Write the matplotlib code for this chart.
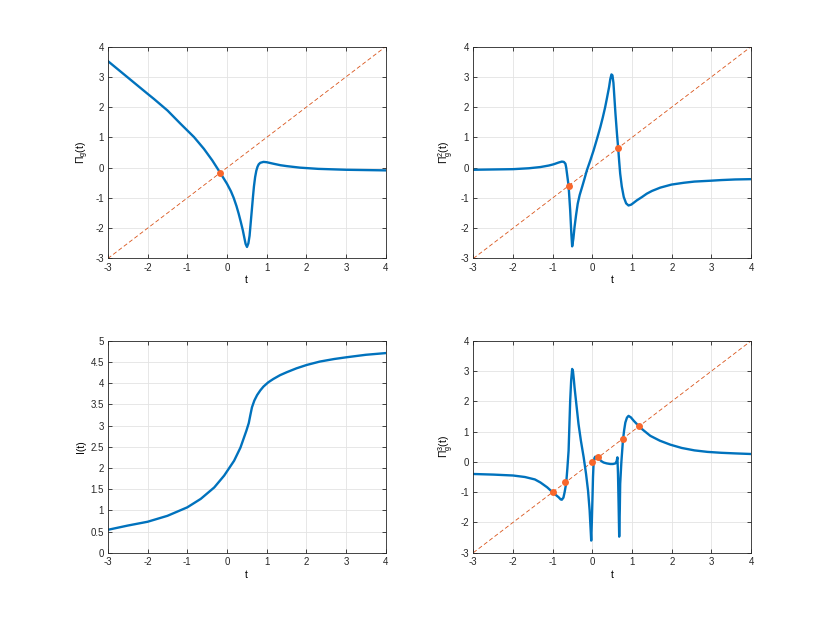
import numpy as np
import matplotlib.pyplot as plt

plt.rcParams['font.family'] = ['Liberation Sans', 'DejaVu Sans']
plt.rcParams['mathtext.fontset'] = 'custom'
plt.rcParams['mathtext.rm'] = 'Liberation Sans'
plt.rcParams['mathtext.it'] = 'Liberation Sans'
plt.rcParams['axes.unicode_minus'] = False

# Pi_g(t)
t1 = [-3.0, -2.5, -2.0, -1.84, -1.5, -1.17, -1.0, -0.83, -0.58, -0.37, -0.165, 0.0,
      0.1, 0.17, 0.24, 0.295, 0.35, 0.40, 0.44, 0.47, 0.505, 0.54, 0.57, 0.60, 0.63,
      0.655, 0.68, 0.71, 0.74, 0.77, 0.80, 0.84, 0.92, 1.0, 1.17, 1.35, 1.51, 1.84,
      2.3, 3.0, 4.0]
y1 = [3.52, 2.98, 2.44, 2.27, 1.89, 1.45, 1.23, 1.01, 0.62, 0.24, -0.18, -0.53,
      -0.78, -1.0, -1.27, -1.52, -1.80, -2.07, -2.33, -2.52, -2.62, -2.50, -2.25, -1.80,
      -1.35, -0.97, -0.62, -0.31, -0.10, 0.03, 0.11, 0.16, 0.19, 0.18, 0.13, 0.08, 0.05,
      0.0, -0.04, -0.07, -0.09]

# Pi_g^2(t)
t2 = [-3.0, -2.5, -2.0, -1.6, -1.31, -1.1, -0.98, -0.85, -0.77, -0.72, -0.68, -0.66,
      -0.64, -0.60, -0.56, -0.53, -0.51, -0.48, -0.45, -0.41, -0.37, -0.32, -0.26, -0.2,
      -0.14, -0.05, 0.03, 0.12, 0.20, 0.26, 0.32, 0.37, 0.42, 0.45, 0.48, 0.505, 0.53,
      0.555, 0.58, 0.62, 0.65, 0.675, 0.70, 0.74, 0.79, 0.85, 0.91, 0.98, 1.05, 1.12,
      1.25, 1.37, 1.5, 1.71, 1.99, 2.3, 2.57, 3.0, 3.25, 3.6, 4.0]
y2 = [-0.07, -0.06, -0.05, -0.02, 0.02, 0.07, 0.11, 0.17, 0.20, 0.19, 0.13, 0.0,
      -0.20, -0.60, -1.41, -2.2, -2.60, -2.35, -1.96, -1.55, -1.19, -0.90, -0.64, -0.37,
      -0.09, 0.25, 0.57, 0.97, 1.34, 1.65, 1.99, 2.32, 2.66, 2.92, 3.08, 3.05, 2.80,
      2.3, 1.80, 1.10, 0.64, 0.2, -0.20, -0.62, -0.97, -1.18, -1.25, -1.22, -1.15, -1.08,
      -0.97, -0.86, -0.77, -0.66, -0.56, -0.50, -0.46, -0.43, -0.41, -0.39, -0.38]

# I(t)
t3 = [-3.0, -2.5, -2.0, -1.5, -1.0, -0.66, -0.32, -0.07, 0.18, 0.34, 0.43, 0.49,
      0.55, 0.59, 0.63, 0.69, 0.76, 0.84, 0.92, 1.04, 1.17, 1.34, 1.51,
      1.75, 2.01, 2.34, 2.7, 3.0, 3.5, 4.0]
y3 = [0.54, 0.64, 0.73, 0.87, 1.07, 1.27, 1.54, 1.82, 2.17, 2.48, 2.72, 2.88,
      3.06, 3.25, 3.43, 3.59, 3.72, 3.83, 3.92, 4.02, 4.10, 4.19, 4.26,
      4.35, 4.43, 4.51, 4.57, 4.61, 4.67, 4.71]

# Pi_g^3(t)
t4 = [-3.0, -2.5, -2.0, -1.7, -1.45, -1.31, -1.14, -0.98, -0.85, -0.80, -0.77, -0.73,
      -0.70, -0.66, -0.63, -0.60, -0.58, -0.56, -0.535, -0.51, -0.49, -0.47, -0.45,
      -0.40, -0.35, -0.29, -0.22, -0.16, -0.11, -0.07, -0.03, -0.015, 0.0, 0.015, 0.03,
      0.05, 0.07, 0.1, 0.17, 0.22, 0.28, 0.36, 0.45, 0.52, 0.58, 0.61, 0.63, 0.645,
      0.66, 0.675, 0.69, 0.70, 0.73, 0.77, 0.80, 0.83, 0.87, 0.91, 0.97, 1.04, 1.12,
      1.20, 1.3, 1.46, 1.7, 1.96, 2.25, 2.57, 2.9, 3.25, 3.6, 4.0]
y4 = [-0.40, -0.42, -0.45, -0.50, -0.58, -0.68, -0.84, -1.03, -1.17, -1.24, -1.25,
      -1.18, -1.0, -0.70, -0.2, 0.37, 1.2, 2.02, 2.7, 3.07, 3.0, 2.75, 2.46,
      1.85, 1.25, 0.70, 0.15, -0.40, -0.95, -1.6, -2.60, -2.0, -1.28, -0.5, -0.04,
      0.12, 0.17, 0.16, 0.10, 0.03, -0.02, -0.05, -0.07, -0.07, -0.05, 0.02, 0.15, -0.4,
      -1.4, -2.47, -1.6, -0.73, 0.0, 0.72, 1.05, 1.30, 1.46, 1.52, 1.47, 1.36, 1.25,
      1.14, 1.03, 0.86, 0.70, 0.57, 0.46, 0.38, 0.33, 0.30, 0.28, 0.26]

# fixed points (on y = t)
fp1 = [-0.17]
fp2 = [-0.60, 0.65]
fp4 = [-0.99, -0.68, -0.01, 0.15, 0.76, 1.18]

diag_t = [-3, 4]

blue = '#0072BD'
orange = '#D95319'
dot = '#F8672C'

fig = plt.figure(figsize=(8.3, 6.21), dpi=100)
pos = [[0.13, 0.5838, 0.3347, 0.3412], [0.5703, 0.5838, 0.3347, 0.3412],
       [0.13, 0.11, 0.3347, 0.3412], [0.5703, 0.11, 0.3347, 0.3412]]
axs = [fig.add_axes(p) for p in pos]


def style(ax, ylim, yticks, ylabel):
    ax.set_xlim(-3, 4)
    ax.set_ylim(*ylim)
    ax.set_xticks(range(-3, 5))
    ax.set_yticks(yticks)
    ax.set_yticklabels([('%g' % v) for v in yticks])
    ax.grid(True, color='#e3e3e3', linewidth=0.6)
    ax.set_axisbelow(True)
    ax.tick_params(direction='in', length=3, width=0.6, labelsize=7,
                   top=True, right=True, colors='#262626', pad=3)
    for s in ax.spines.values():
        s.set_color('#262626')
        s.set_linewidth(0.6)
    ax.set_xlabel('t', fontsize=7.5, labelpad=2)
    ax.set_ylabel(ylabel, fontsize=7.5, labelpad=3)


def panel(ax, t, y, fp, ylabel):
    ax.plot(diag_t, diag_t, '--', color=orange, linewidth=0.6, dashes=(5, 3))
    ax.plot(t, y, color=blue, linewidth=1.7, solid_joinstyle='round')
    ax.plot(fp, fp, 'o', color=dot, markersize=5, markeredgewidth=0)
    style(ax, (-3, 4), list(range(-3, 5)), ylabel)


panel(axs[0], t1, y1, fp1, r'$\Pi_g(t)$')
panel(axs[1], t2, y2, fp2, r'$\Pi_g^2(t)$')
panel(axs[3], t4, y4, fp4, r'$\Pi_g^3(t)$')

axs[2].plot(t3, y3, color=blue, linewidth=1.7, solid_joinstyle='round')
style(axs[2], (0, 5), list(np.arange(0, 5.01, 0.5)), 'I(t)')

plt.savefig('out.png', dpi=100)
